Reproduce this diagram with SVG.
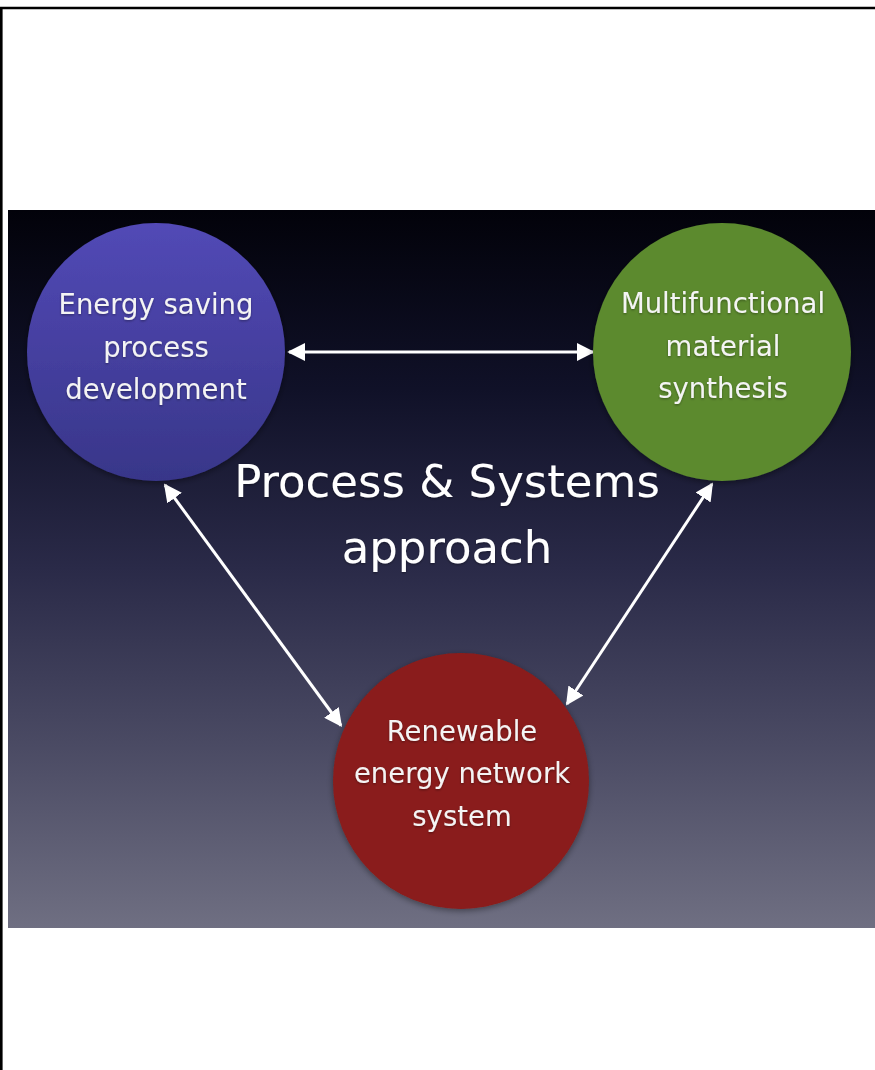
<svg xmlns="http://www.w3.org/2000/svg" width="875" height="1070" viewBox="0 0 875 1070">
<defs>
<linearGradient id="bg" x1="0" y1="0" x2="0" y2="1">
<stop offset="0" stop-color="#02020a"/>
<stop offset="0.25" stop-color="#101128"/>
<stop offset="0.5" stop-color="#2a2a48"/>
<stop offset="0.75" stop-color="#4b4b64"/>
<stop offset="1" stop-color="#6f6f82"/>
</linearGradient>
<linearGradient id="blue" x1="0" y1="0" x2="0" y2="1">
<stop offset="0" stop-color="#5249b6"/>
<stop offset="1" stop-color="#383689"/>
</linearGradient>
<filter id="sh" x="-20%" y="-20%" width="140%" height="140%">
<feDropShadow dx="0" dy="2" stdDeviation="3" flood-color="#000" flood-opacity="0.4"/>
</filter>
<filter id="tsh" x="-10%" y="-30%" width="120%" height="160%">
<feDropShadow dx="0" dy="1.2" stdDeviation="0.8" flood-color="#000" flood-opacity="0.35"/>
</filter>
<marker id="ah" viewBox="0 0 10 10" refX="9" refY="5" markerWidth="6" markerHeight="6" orient="auto-start-reverse" markerUnits="strokeWidth">
<path d="M0,0 L10,5 L0,10 Z" fill="#ffffff"/>
</marker>
</defs>
<style>
.lbl{font-family:"DejaVu Sans","Liberation Sans",sans-serif;font-size:27.5px;fill:#f4f4f4;text-anchor:middle;filter:url(#tsh)}
.ttl{font-family:"DejaVu Sans","Liberation Sans",sans-serif;font-size:45px;fill:#ffffff;text-anchor:middle;filter:url(#tsh)}
.con{stroke:#ffffff;stroke-width:3;fill:none;marker-start:url(#ah);marker-end:url(#ah)}
</style>
<rect x="0" y="0" width="875" height="1070" fill="#ffffff"/>
<path d="M1.3,1070 V8 H875" fill="none" stroke="#000000" stroke-width="2.6"/>
<rect x="8" y="210" width="867" height="718" fill="url(#bg)"/>
<text class="ttl" x="447" y="497">Process &amp; Systems</text>
<text class="ttl" x="447" y="563">approach</text>
<g id="connectors">
<line class="con" x1="289" y1="352" x2="593" y2="352"/>
<line class="con" x1="165" y1="485" x2="341" y2="725.5"/>
<line class="con" x1="712" y1="484" x2="567" y2="704"/>
</g>
<g id="node-energy">
<circle cx="156" cy="352" r="129" fill="url(#blue)" filter="url(#sh)"/>
<text class="lbl" x="156" y="314">Energy saving</text>
<text class="lbl" x="156" y="357">process</text>
<text class="lbl" x="156" y="399">development</text>
</g>
<g id="node-material">
<circle cx="722" cy="352" r="129" fill="#5b8a2f" filter="url(#sh)"/>
<text class="lbl" x="723" y="313">Multifunctional</text>
<text class="lbl" x="723" y="356">material</text>
<text class="lbl" x="723" y="398">synthesis</text>
</g>
<g id="node-renewable">
<circle cx="461" cy="781" r="128" fill="#8a1c1a" filter="url(#sh)"/>
<text class="lbl" x="462" y="741">Renewable</text>
<text class="lbl" x="462" y="783">energy network</text>
<text class="lbl" x="462" y="826">system</text>
</g>
</svg>
